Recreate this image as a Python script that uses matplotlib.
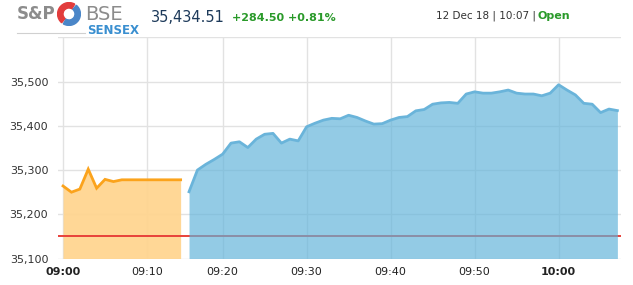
import matplotlib
matplotlib.use("Agg")
import matplotlib.pyplot as plt
from matplotlib.patches import Wedge
import numpy as np

# ---- data ----
pre_open_idx = list(range(0, 15))          # 09:00 .. 09:14
pre_open_vals = [35264, 35250, 35257, 35302, 35259, 35279, 35274, 35278,
                 35278, 35278, 35278, 35278, 35278, 35278, 35278]
session_idx = list(range(15, 67))          # 09:16 .. 10:07
session_vals = [35251, 35300, 35313, 35324, 35336, 35361, 35364, 35351, 35370,
                35381, 35383, 35361, 35370, 35366, 35398, 35406, 35413, 35417,
                35416, 35424, 35419, 35411, 35404, 35405, 35413, 35419, 35421,
                35434, 35437, 35449, 35452, 35453, 35451, 35472, 35477, 35474,
                35474, 35477, 35481, 35474, 35472, 35472, 35468, 35474, 35493,
                35481, 35470, 35451, 35449, 35430, 35438, 35434.5]
prev_close = 35150.01
tick_pos = [0, 10, 19, 29, 39, 49, 59]
tick_labels = ["09:00", "09:10", "09:20", "09:30", "09:40", "09:50", "10:00"]
bold_ticks = ["09:00", "10:00"]
y_ticks = [35100, 35200, 35300, 35400, 35500, 35600]
last_value = "35,434.51"
change_text = "+284.50 +0.81%"
date_text = "12 Dec 18 | 10:07 |"
status_text = "Open"

W, H = 633, 285
fig = plt.figure(figsize=(W / 100, H / 100), dpi=100)
plt.rcParams['font.family'] = ['DejaVu Sans']

ax_l, ax_r, ax_t, ax_b = 58, 621, 37, 258.5
ax = fig.add_axes([ax_l / W, (H - ax_b) / H, (ax_r - ax_l) / W, (ax_b - ax_t) / H])
ax.set_xlim(-0.6, 66.43)
ax.set_ylim(35100, 35601)

for s in ax.spines.values():
    s.set_visible(False)

grid_c = "#e2e2e2"
for yv in y_ticks:
    ax.axhline(yv, color=grid_c, lw=1.0, zorder=0)
for xv in tick_pos:
    ax.axvline(xv, color=grid_c, lw=1.0, zorder=0)

# pre-open (orange)
ax.fill_between(pre_open_idx, pre_open_vals, 35100, color="#ffd590", alpha=0.95,
                lw=0, zorder=1)
ax.axhline(prev_close, color="#e8413a", lw=1.4, zorder=2, xmin=0.0)
ax.plot(pre_open_idx, pre_open_vals, color="#fba31c", lw=2.0, zorder=4,
        solid_joinstyle="miter")

# session (blue)
ax.fill_between(session_idx, session_vals, 35100, color="#60b3da", alpha=0.68,
                lw=0, zorder=3)
ax.plot(session_idx, session_vals, color="#6ab4da", lw=2.0, zorder=4)

ax.set_yticks(y_ticks[:-1])
ax.set_yticklabels([f"{v:,}" for v in y_ticks[:-1]], fontsize=8, color="#333333")
ax.set_xticks(tick_pos)
ax.set_xticklabels(tick_labels, fontsize=8, color="#222222")
for lab in ax.get_xticklabels():
    if lab.get_text() in bold_ticks:
        lab.set_fontweight("bold")
ax.tick_params(axis="both", length=0)
ax.tick_params(axis="y", pad=7)
ax.tick_params(axis="x", pad=6)

# ---- header ----
def fx(px):
    return px / W

def fy(py):
    return 1 - py / H

fig.text(fx(17), fy(14), "S&P", fontsize=12, fontweight="bold", color="#8c8c8c",
         va="center", ha="left")
# logo icon
icon_ax = fig.add_axes([fx(57), fy(26), 24 / W, 24 / H])
icon_ax.set_xlim(-1, 1)
icon_ax.set_ylim(-1, 1)
icon_ax.set_aspect("equal")
icon_ax.axis("off")
icon_ax.add_patch(Wedge((0, 0), 0.95, 60, 230, width=0.45, color="#e23c3c"))
icon_ax.add_patch(Wedge((0, 0), 0.95, 240, 410, width=0.45, color="#4a86c8"))
fig.text(fx(85), fy(14), "BSE", fontsize=14, color="#8c8c8c", va="center",
         ha="left")
fig.text(fx(87), fy(30), "SENSEX", fontsize=8.5, fontweight="bold", color="#3a8fd0",
         va="center", ha="left")
fig.add_artist(plt.Line2D([fx(17), fx(85)], [fy(33), fy(33)], color="#d0d0d0",
                          lw=0.8))

fig.text(fx(151), fy(18), last_value, fontsize=10.5, color="#1d3a5a",
         va="center", ha="left")
fig.text(fx(232), fy(18), change_text, fontsize=8, fontweight="bold",
         color="#2a9a2a", va="center", ha="left")
fig.text(fx(436), fy(16), date_text, fontsize=7.5, color="#333333",
         va="center", ha="left")
fig.text(fx(537), fy(16), status_text, fontsize=8, fontweight="bold",
         color="#2a9a2a", va="center", ha="left")

fig.savefig("out.png", dpi=100)
